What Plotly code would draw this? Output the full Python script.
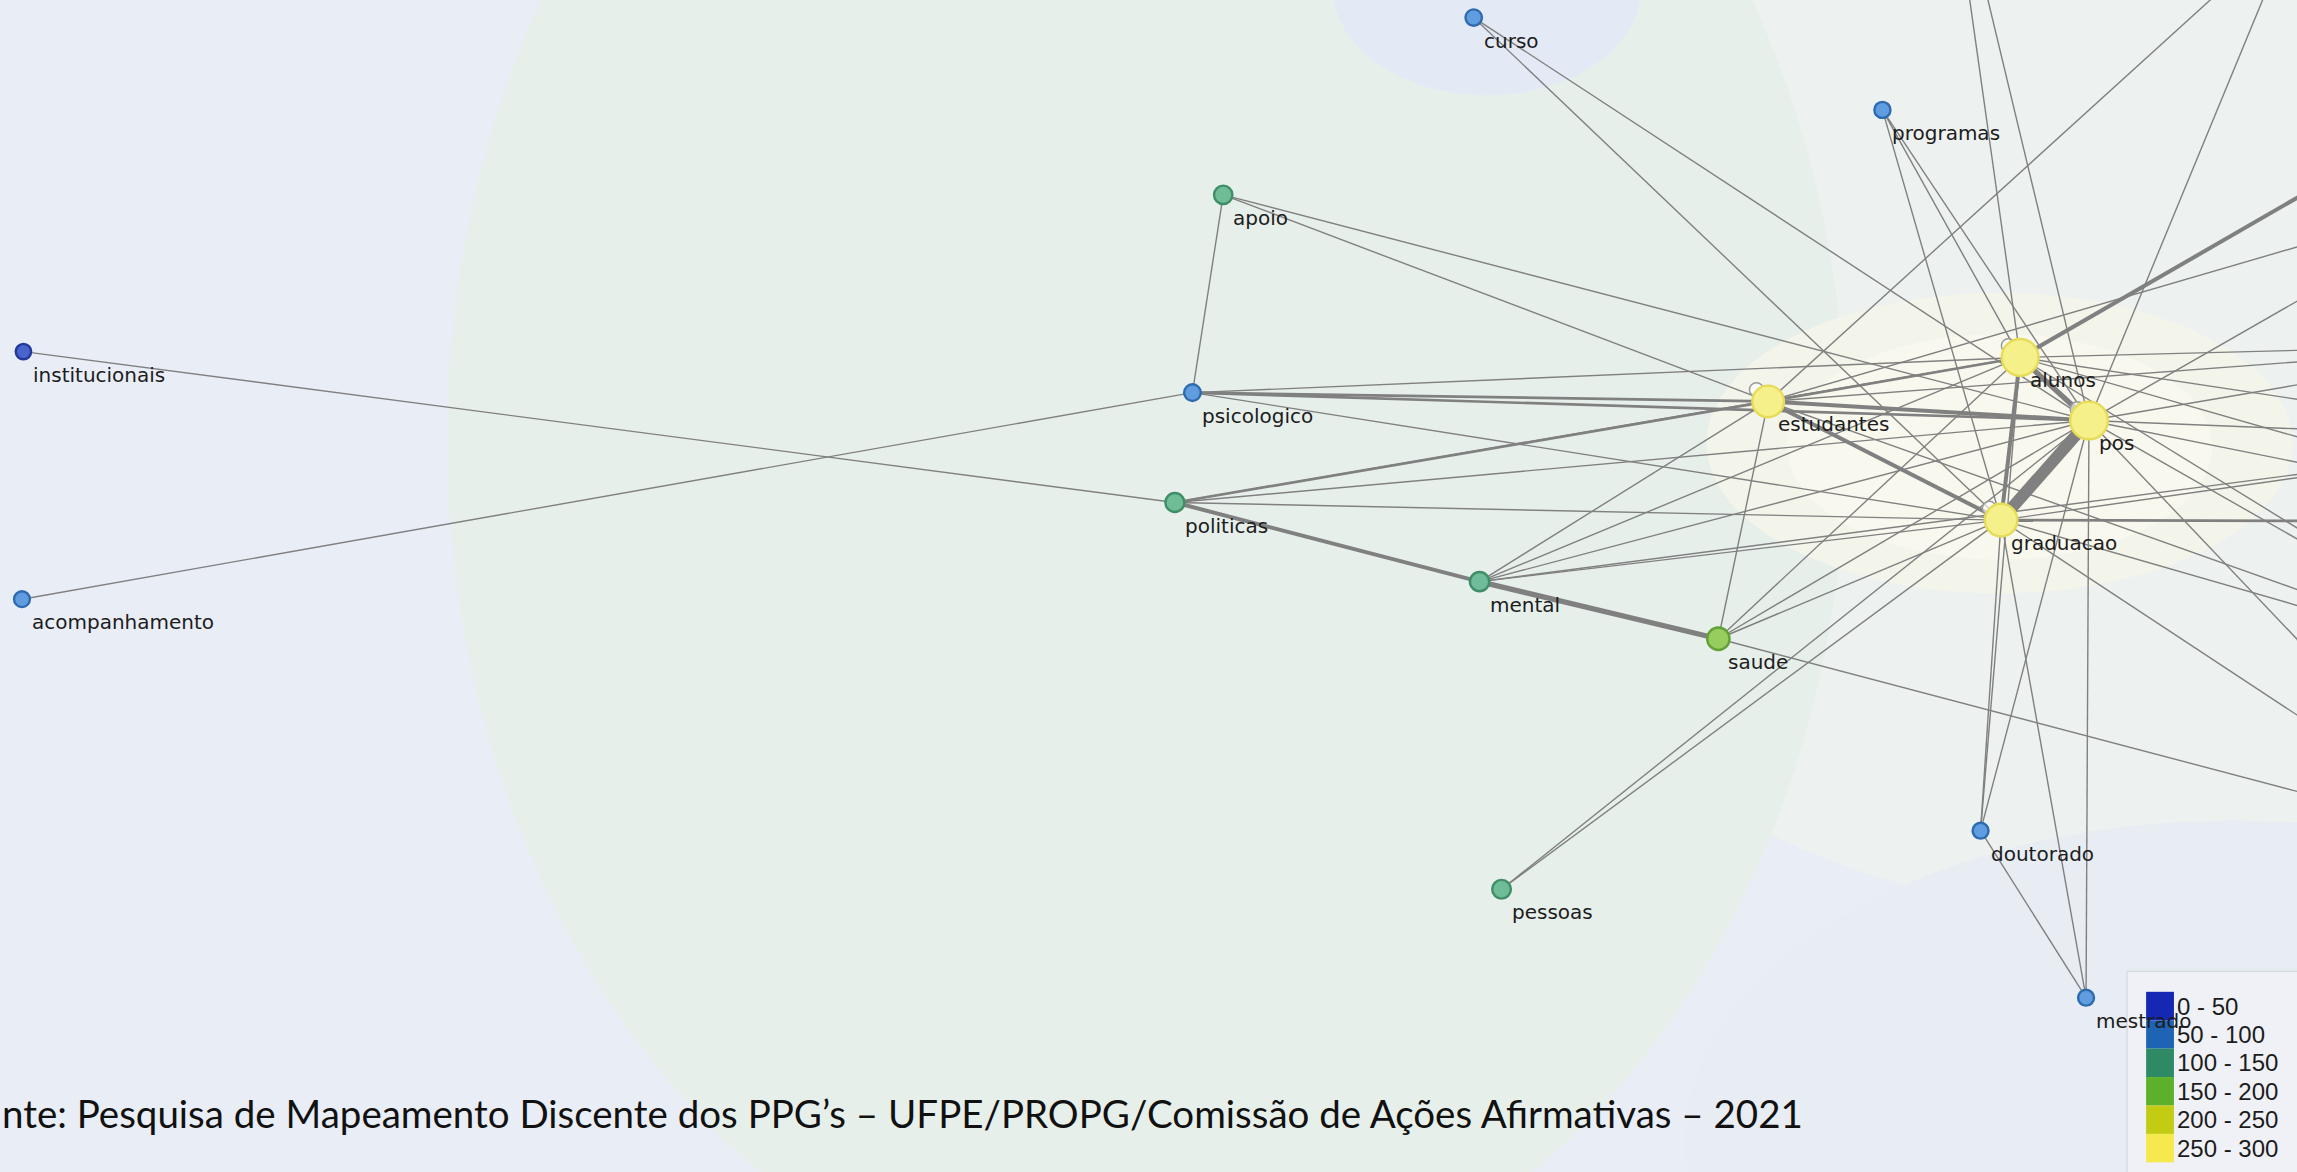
import plotly.graph_objects as go

# ---------------- data ----------------
node_names = ["curso", "programas", "apoio", "institucionais", "psicologico", "estudantes",
              "alunos", "pos", "graduacao", "politicas", "mental", "saude",
              "acompanhamento", "pessoas", "doutorado", "mestrado"]
node_x = [1006, 1285, 835, 16, 814, 1207, 1379, 1426, 1366, 802, 1010, 1173, 15, 1025, 1352, 1424]
node_y = [12, 75, 133, 240, 268, 274, 244, 287, 355, 343, 397, 436, 409, 607, 567, 681]
node_freq = [75, 65, 115, 40, 80, 255, 292, 298, 262, 125, 130, 170, 55, 120, 60, 60]

# nodes lying just outside the visible crop (only their edges are seen)
hidden_names = ["h1", "h2", "h3", "h4", "h5", "h6", "h7", "h8", "h9"]
hidden_x = [1327, 1566, 1660, 1700, 1730, 1750, 1770, 1730, 1700]
hidden_y = [-125, -52, 82, 130, 235, 300, 356, 460, 575]

self_loops = ["alunos", "estudantes", "pos", "graduacao"]

edge_src = ["pos", "alunos", "alunos", "estudantes", "estudantes", "estudantes",
            "institucionais", "acompanhamento", "apoio", "apoio", "apoio",
            "psicologico", "psicologico", "psicologico", "psicologico",
            "politicas", "politicas", "politicas", "politicas", "politicas",
            "mental", "mental", "mental", "mental", "mental", "mental",
            "saude", "saude", "saude", "saude", "saude",
            "pessoas", "pessoas", "curso", "curso",
            "programas", "programas", "programas",
            "doutorado", "doutorado", "doutorado", "doutorado",
            "mestrado", "mestrado",
            "h1", "h1", "h2", "h2", "h3", "h4", "h4",
            "h5", "h5", "h5", "h6", "h6", "h6",
            "h7", "h7", "h7", "h8", "h8", "h8", "h8", "h9", "h9"]
edge_dst = ["graduacao", "pos", "graduacao", "pos", "graduacao", "alunos",
            "politicas", "psicologico", "psicologico", "estudantes", "pos",
            "estudantes", "alunos", "pos", "graduacao",
            "estudantes", "pos", "graduacao", "mental", "alunos",
            "saude", "estudantes", "alunos", "pos", "graduacao", "h6",
            "estudantes", "alunos", "pos", "graduacao", "h9",
            "graduacao", "pos", "graduacao", "pos",
            "alunos", "pos", "graduacao",
            "graduacao", "alunos", "pos", "mestrado",
            "graduacao", "pos",
            "alunos", "pos", "estudantes", "pos", "alunos", "pos", "estudantes",
            "alunos", "pos", "estudantes", "pos", "alunos", "graduacao",
            "graduacao", "pos", "alunos", "pos", "graduacao", "estudantes", "alunos", "pos", "graduacao"]
edge_weight = [9, 4, 3, 3, 3, 2,
               1, 1, 1, 1, 1,
               2, 1, 2, 1,
               2, 1, 1, 3, 1,
               4, 1, 1, 1, 1, 1,
               1, 1, 1, 1, 1,
               1, 1, 1, 1,
               1, 1, 1,
               1, 1, 1, 1,
               1, 1,
               1, 1, 1, 1, 3, 1, 1,
               1, 1, 1, 1, 1, 1,
               2, 1, 1, 1, 1, 1, 1, 1, 1]

bin_edges = [0, 50, 100, 150, 200, 250, 300]
bin_colors = ["#1428b4", "#1f63b4", "#2e8a64", "#5cb02c", "#c2cc12", "#f6e94e"]
node_fill = ["#4b63cc", "#5f9de0", "#6fbd98", "#97cc5f", "#dfe06a", "#f6f08a"]
node_line = ["#23399a", "#2e6aae", "#3f8e68", "#63a035", "#b0b030", "#e6dc58"]

source_text = "nte: Pesquisa de Mapeamento Discente dos PPG’s – UFPE/PROPG/Comissão de Ações Afirmativas – 2021"

# ---------------- build ----------------
W, H = 2297, 1172
XR, YR = 1568, 800
pos = {n: (x, y) for n, x, y in zip(node_names, node_x, node_y)}
pos.update({n: (x, y) for n, x, y in zip(hidden_names, hidden_x, hidden_y)})

fig = go.Figure()

# background shading
bg_shapes = [
    dict(x0=950, x1=1900, y0=-300, y1=620, c="#edf1ef"),
    dict(x0=305, x1=1260, y0=-300, y1=900, c="#e7efeb"),
    dict(x0=1150, x1=1900, y0=560, y1=1000, c="#e8ecf3"),
    dict(x0=910, x1=1120, y0=-80, y1=65, c="#e4eaf5"),
    dict(x0=1165, x1=1565, y0=200, y1=405, c="#f3f4ea"),
    dict(x0=1220, x1=1510, y0=228, y1=382, c="#f8f8ee"),
]
for s in bg_shapes:
    fig.add_shape(type="circle", xref="x", yref="y", x0=s["x0"], x1=s["x1"], y0=s["y0"], y1=s["y1"],
                  fillcolor=s["c"], line=dict(width=0), layer="below")

# edges
for a, b, w in zip(edge_src, edge_dst, edge_weight):
    (xa, ya), (xb, yb) = pos[a], pos[b]
    fig.add_trace(go.Scatter(x=[xa, xb], y=[ya, yb], mode="lines",
                             line=dict(color="#808080", width=1.4 + (w - 1) * 1.3),
                             hoverinfo="skip", showlegend=False))

# self loops
lx = [pos[n][0] - 8 for n in self_loops]
ly = [pos[n][1] - 8 for n in self_loops]
fig.add_trace(go.Scatter(x=lx, y=ly, mode="markers",
                         marker=dict(size=14, color="rgba(255,255,255,0.6)",
                                     line=dict(color="#9a9a9a", width=1.5)),
                         hoverinfo="skip", showlegend=False))

# nodes
cls = [min(f // 50, 5) for f in node_freq]
sizes = [15 + 23 * (f / 300) ** 2 for f in node_freq]
fig.add_trace(go.Scatter(x=node_x, y=node_y, mode="markers", text=node_names,
                         marker=dict(size=sizes, color=[node_fill[c] for c in cls], opacity=1,
                                     line=dict(color=[node_line[c] for c in cls], width=2.4)),
                         hoverinfo="text", showlegend=False))

# node labels
for n, x, y in zip(node_names, node_x, node_y):
    fig.add_annotation(x=x, y=y, text=n, showarrow=False, xanchor="left", yanchor="middle",
                       xshift=8, yshift=-23, font=dict(family="DejaVu Sans", size=20, color="#1c1c1c"))

# colour-class legend box
fig.add_shape(type="rect", xref="x", yref="y", x0=1452, x1=1580, y0=663, y1=810,
              fillcolor="rgba(241,243,247,0.72)", line=dict(color="#cfd4da", width=1))
band = 19.4
for i in range(len(bin_colors)):
    y0 = 677 + i * band
    fig.add_shape(type="rect", xref="x", yref="y", x0=1465, x1=1484, y0=y0, y1=y0 + band,
                  fillcolor=bin_colors[i], line=dict(width=0))
    fig.add_annotation(x=1485, y=y0 + band / 2, text=f"{bin_edges[i]} - {bin_edges[i + 1]}",
                       showarrow=False, xanchor="left", yanchor="middle",
                       font=dict(family="Liberation Sans", size=24, color="#1c1c1c"))

# source note
fig.add_annotation(x=0, y=760, text=source_text, showarrow=False, xanchor="left", yanchor="middle",
                   font=dict(family="Lato", size=38.5, color="#111111"))

fig.update_xaxes(range=[0, XR], visible=False, fixedrange=True)
fig.update_yaxes(range=[YR, 0], visible=False, fixedrange=True)
fig.update_layout(width=W, height=H, margin=dict(l=0, r=0, t=0, b=0),
                  paper_bgcolor="#e9edf6", plot_bgcolor="rgba(0,0,0,0)")

fig.write_html("out.html", config={"displayModeBar": False},
               post_script="document.body.style.margin='0';document.body.style.overflow='hidden';")
